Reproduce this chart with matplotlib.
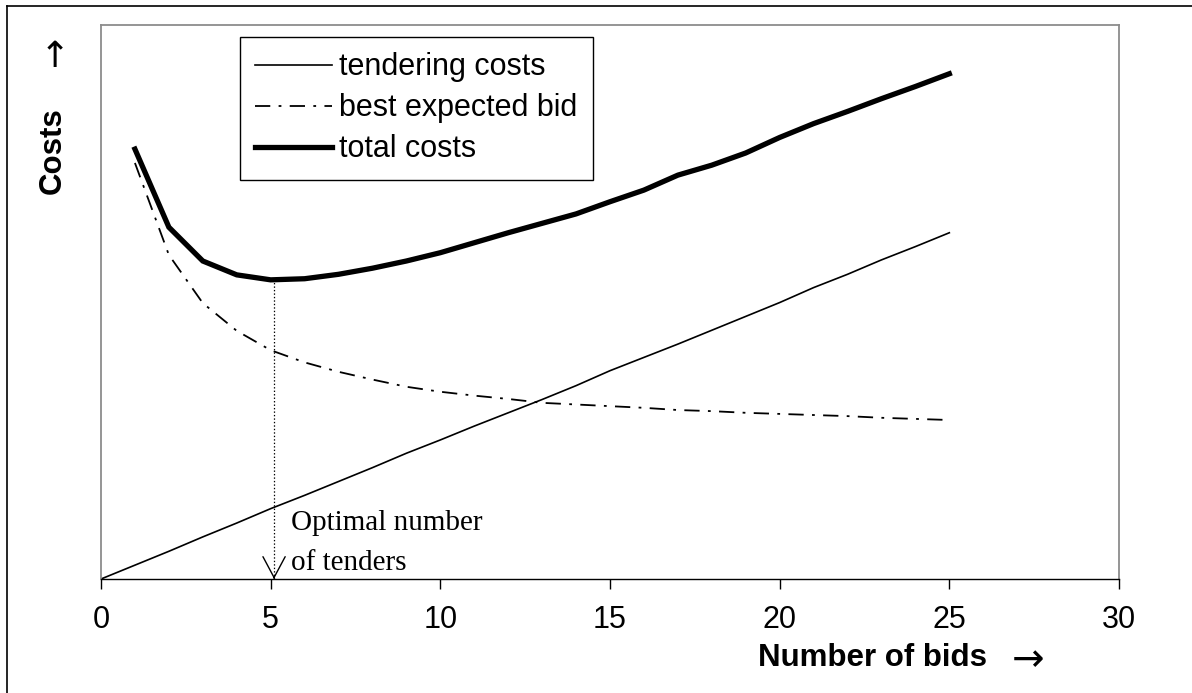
import matplotlib

matplotlib.use("Agg")
import matplotlib.pyplot as plt
from matplotlib.lines import Line2D

plt.rcParams["font.family"] = ["Liberation Sans", "DejaVu Sans"]
plt.rcParams["lines.scale_dashes"] = False

# values (arbitrary cost units, axis top = 100)
bids_tender = list(range(0, 26))
tendering = [0, 2.5, 5.0, 7.6, 10.1, 12.7, 15.1, 17.6, 20.1, 22.7, 25.1, 27.6, 30.0,
             32.4, 34.9, 37.6, 40.0, 42.4, 44.9, 47.4, 49.9, 52.6, 55.0, 57.6, 60.0, 62.5]
bids = list(range(1, 26))
best_bid = [75.1, 58.5, 49.8, 44.8, 41.3, 39.1, 37.4, 36.0, 34.7, 33.8, 33.1, 32.5, 31.8,
            31.5, 31.2, 30.9, 30.5, 30.3, 30.0, 29.8, 29.6, 29.4, 29.1, 28.9, 28.7]
total = [77.6, 63.5, 57.4, 54.9, 54.0, 54.2, 55.0, 56.1, 57.4, 58.9, 60.7, 62.5, 64.2,
         65.9, 68.1, 70.2, 72.9, 74.7, 76.9, 79.7, 82.2, 84.4, 86.7, 88.9, 91.2]
x_ticks = [0, 5, 10, 15, 20, 25, 30]
optimum_x = 5.1
optimum_y = 54.0

W, H = 1192, 693
fig = plt.figure(figsize=(W / 100, H / 100), dpi=100)
fig.patch.set_facecolor("white")

# outer frame (only top/left edges visible in the reference)
fig.add_artist(Line2D([7 / W, 7 / W], [0, 1 - 6 / H], color="black", lw=1.2))
fig.add_artist(Line2D([7 / W, 1], [1 - 6 / H, 1 - 6 / H], color="black", lw=1.2))

ax = fig.add_axes([101 / W, 1 - 579 / H, 1018 / W, 554 / H])
ax.plot(bids_tender, tendering, color="black", lw=1.2, label="tendering costs")
ax.plot(bids, best_bid, color="black", lw=1.3, dashes=(11, 6, 2, 6),
        label="best expected bid")
ax.plot(bids, total, color="black", lw=3.8, solid_joinstyle="miter", label="total costs")

# optimum marker: dotted drop line with open arrow head
ax.vlines(optimum_x, 0, optimum_y, colors="black", linestyles=(0, (1, 1.5)), lw=0.9)
ax.annotate("", xy=(optimum_x, 0), xytext=(0, 1), textcoords="offset points",
            arrowprops=dict(arrowstyle="->,head_length=1.5,head_width=0.8",
                            color="black", lw=1.0, shrinkA=0, shrinkB=0))
ax.text(5.6, 12.4, "Optimal number\nof tenders", family="Liberation Serif",
        fontsize=21, va="top", ha="left", linespacing=1.7)

ax.set_xlim(0, 30)
ax.set_ylim(0, 100)
ax.set_xticks(x_ticks)
ax.set_yticks([])
ax.tick_params(axis="x", direction="out", length=7.5, width=1, pad=11,
               labelsize=22, color="black")
for side in ("left", "top", "right"):
    ax.spines[side].set_color("#8c8c8c")
    ax.spines[side].set_linewidth(1.3)
ax.spines["bottom"].set_color("black")
ax.spines["bottom"].set_linewidth(1.0)

leg = ax.legend(loc="upper left", bbox_to_anchor=(0.1365, 0.978), borderaxespad=0,
                fontsize=22, handlelength=2.5, handletextpad=0.25, labelspacing=0.36,
                borderpad=0.5, fancybox=False, framealpha=1, edgecolor="black")
leg.get_frame().set_linewidth(1.0)

fig.text(987 / W, 1 - 658 / H, "Number of bids", fontsize=22.5, fontweight="bold",
         ha="right", va="center")
fig.text(1028 / W, 1 - 660 / H, "\u2192", family="DejaVu Sans", fontsize=28,
         ha="center", va="center")
fig.text(53 / W, 1 - 151 / H, "Costs", fontsize=22.5, fontweight="bold",
         rotation=90, ha="center", va="center")
fig.text(55 / W, 1 - 57 / H, "\u2191", family="DejaVu Sans", fontsize=26,
         ha="center", va="center")

fig.savefig("out.png", dpi=100, facecolor="white")
